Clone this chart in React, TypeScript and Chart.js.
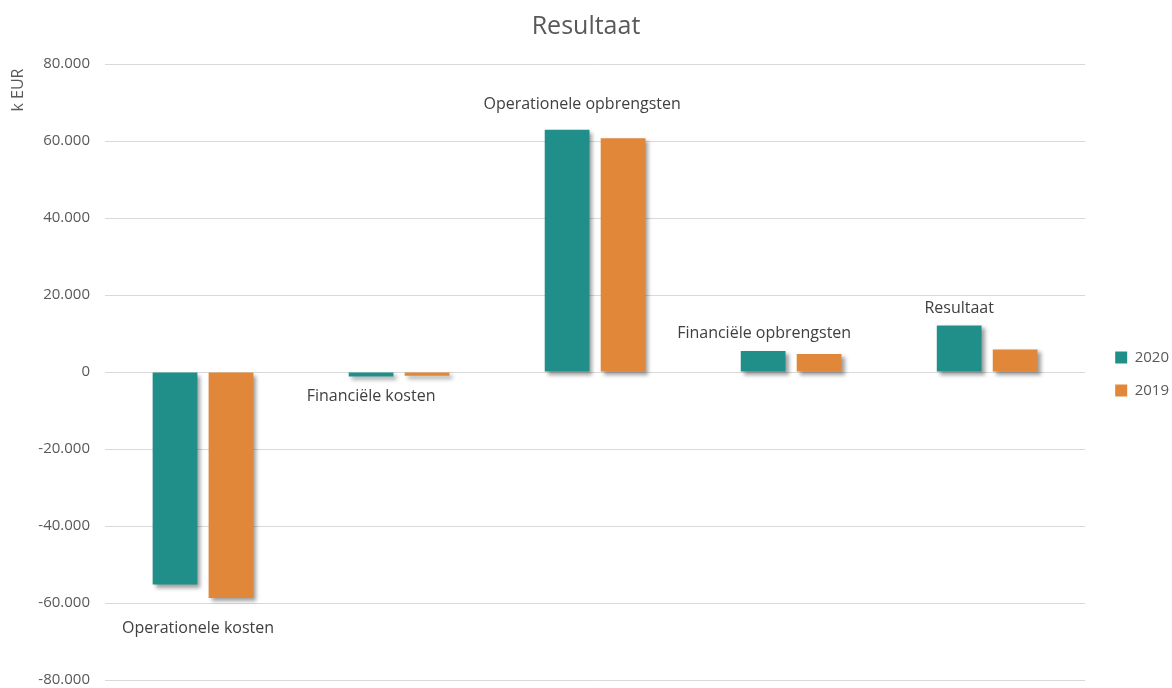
import React, { useEffect, useRef } from "react";
import { Chart, registerables } from "chart.js";

Chart.register(...registerables);

const categories = [
  "Operationele kosten",
  "Financiële kosten",
  "Operationele opbrengsten",
  "Financiële opbrengsten",
  "Resultaat",
];
const seriesNames = ["2020", "2019"];
const values2020 = [-55200, -1200, 62900, 5450, 12100];
const values2019 = [-58700, -1000, 60700, 4680, 5850];
const yMin = -80000;
const yMax = 80000;
const yStep = 20000;

const TEAL = "#208F89";
const ORANGE = "#E0873A";
const FONT = "'Open Sans', 'DejaVu Sans', sans-serif";

// label placement tweaks relative to the 2020 bar of each group (px)
const labelShift = [
  [23, 30],
  [0, 20],
  [15, 25],
  [1, 18],
  [0, 17],
];

const fmt = (v: number) => {
  const s = Math.abs(v).toString().replace(/\B(?=(\d{3})+(?!\d))/g, ".");
  return (v < 0 ? "-" : "") + s;
};

const decorPlugin = {
  id: "decor",
  beforeDatasetsDraw(chart: any) {
    const ctx = chart.ctx;
    ctx.save();
    ctx.shadowColor = "rgba(0,0,0,0.38)";
    ctx.shadowBlur = 4;
    ctx.shadowOffsetX = 3;
    ctx.shadowOffsetY = 3;
  },
  afterDatasetsDraw(chart: any) {
    chart.ctx.restore();
  },
  afterLayout(chart: any) {
    const lg = chart.legend;
    if (lg) {
      lg.left += 12;
      lg.right += 12;
      lg.top += 2;
      lg.bottom += 2;
    }
  },
  afterDraw(chart: any) {
    const ctx = chart.ctx;
    const area = chart.chartArea;
    ctx.save();
    // title
    ctx.fillStyle = "#595959";
    ctx.font = `25px ${FONT}`;
    ctx.textAlign = "center";
    ctx.textBaseline = "middle";
    ctx.fillText("Resultaat", chart.width / 2, 27);
    // y axis title
    ctx.save();
    ctx.translate(18, area.top + 26);
    ctx.rotate(-Math.PI / 2);
    ctx.font = `16px ${FONT}`;
    ctx.fillText("k EUR", 0, 0);
    ctx.restore();
    // category labels
    const m0 = chart.getDatasetMeta(0);
    const m1 = chart.getDatasetMeta(1);
    ctx.font = `16px ${FONT}`;
    ctx.fillStyle = "#404040";
    categories.forEach((c, i) => {
      const b0 = m0.data[i];
      const b1 = m1.data[i];
      const neg = values2020[i] < 0;
      const x = b0.x + labelShift[i][0];
      const y = neg
        ? Math.max(b0.y, b1.y) + labelShift[i][1]
        : Math.min(b0.y, b1.y) - labelShift[i][1];
      ctx.fillText(c, x, y);
    });
    ctx.restore();
  },
};

export default function App() {
  const ref = useRef<HTMLCanvasElement>(null);
  useEffect(() => {
    if (!ref.current) return;
    const chart = new Chart(ref.current, {
      type: "bar",
      data: {
        labels: categories,
        datasets: [
          {
            label: seriesNames[0],
            data: values2020,
            backgroundColor: TEAL,
            categoryPercentage: 0.571,
            barPercentage: 0.8,
          },
          {
            label: seriesNames[1],
            data: values2019,
            backgroundColor: ORANGE,
            categoryPercentage: 0.571,
            barPercentage: 0.8,
          },
        ],
      },
      options: {
        animation: false,
        responsive: false,
        maintainAspectRatio: false,
        devicePixelRatio: 1,
        layout: { autoPadding: false, padding: { top: 64, bottom: 8, left: 0, right: 5 } },
        plugins: {
          title: { display: false },
          tooltip: { enabled: false },
          legend: {
            position: "right",
            labels: {
              boxWidth: 12,
              boxHeight: 12,
              padding: 18,
              color: "#595959",
              font: { family: FONT, size: 15 },
            },
          },
        },
        scales: {
          x: { display: false },
          y: {
            min: yMin,
            max: yMax,
            border: { display: false },
            grid: {
              color: "#d9d9d9",
              lineWidth: 1,
              drawTicks: true,
              tickLength: 15,
              tickColor: "rgba(0,0,0,0)",
            },
            ticks: {
              stepSize: yStep,
              padding: 0,
              color: "#595959",
              font: { family: FONT, size: 15, lineHeight: 1 },
              callback: (v: any) => fmt(Number(v)),
            },
            afterFit: (s: any) => {
              s.width = 105;
            },
          },
        },
      },
      plugins: [decorPlugin],
    });
    return () => chart.destroy();
  }, []);
  return (
    <div style={{ position: "absolute", left: 0, top: 0, width: 1172, height: 688 }}>
      <canvas ref={ref} width={1172} height={688} style={{ display: "block", width: 1172, height: 688 }} />
    </div>
  );
}
